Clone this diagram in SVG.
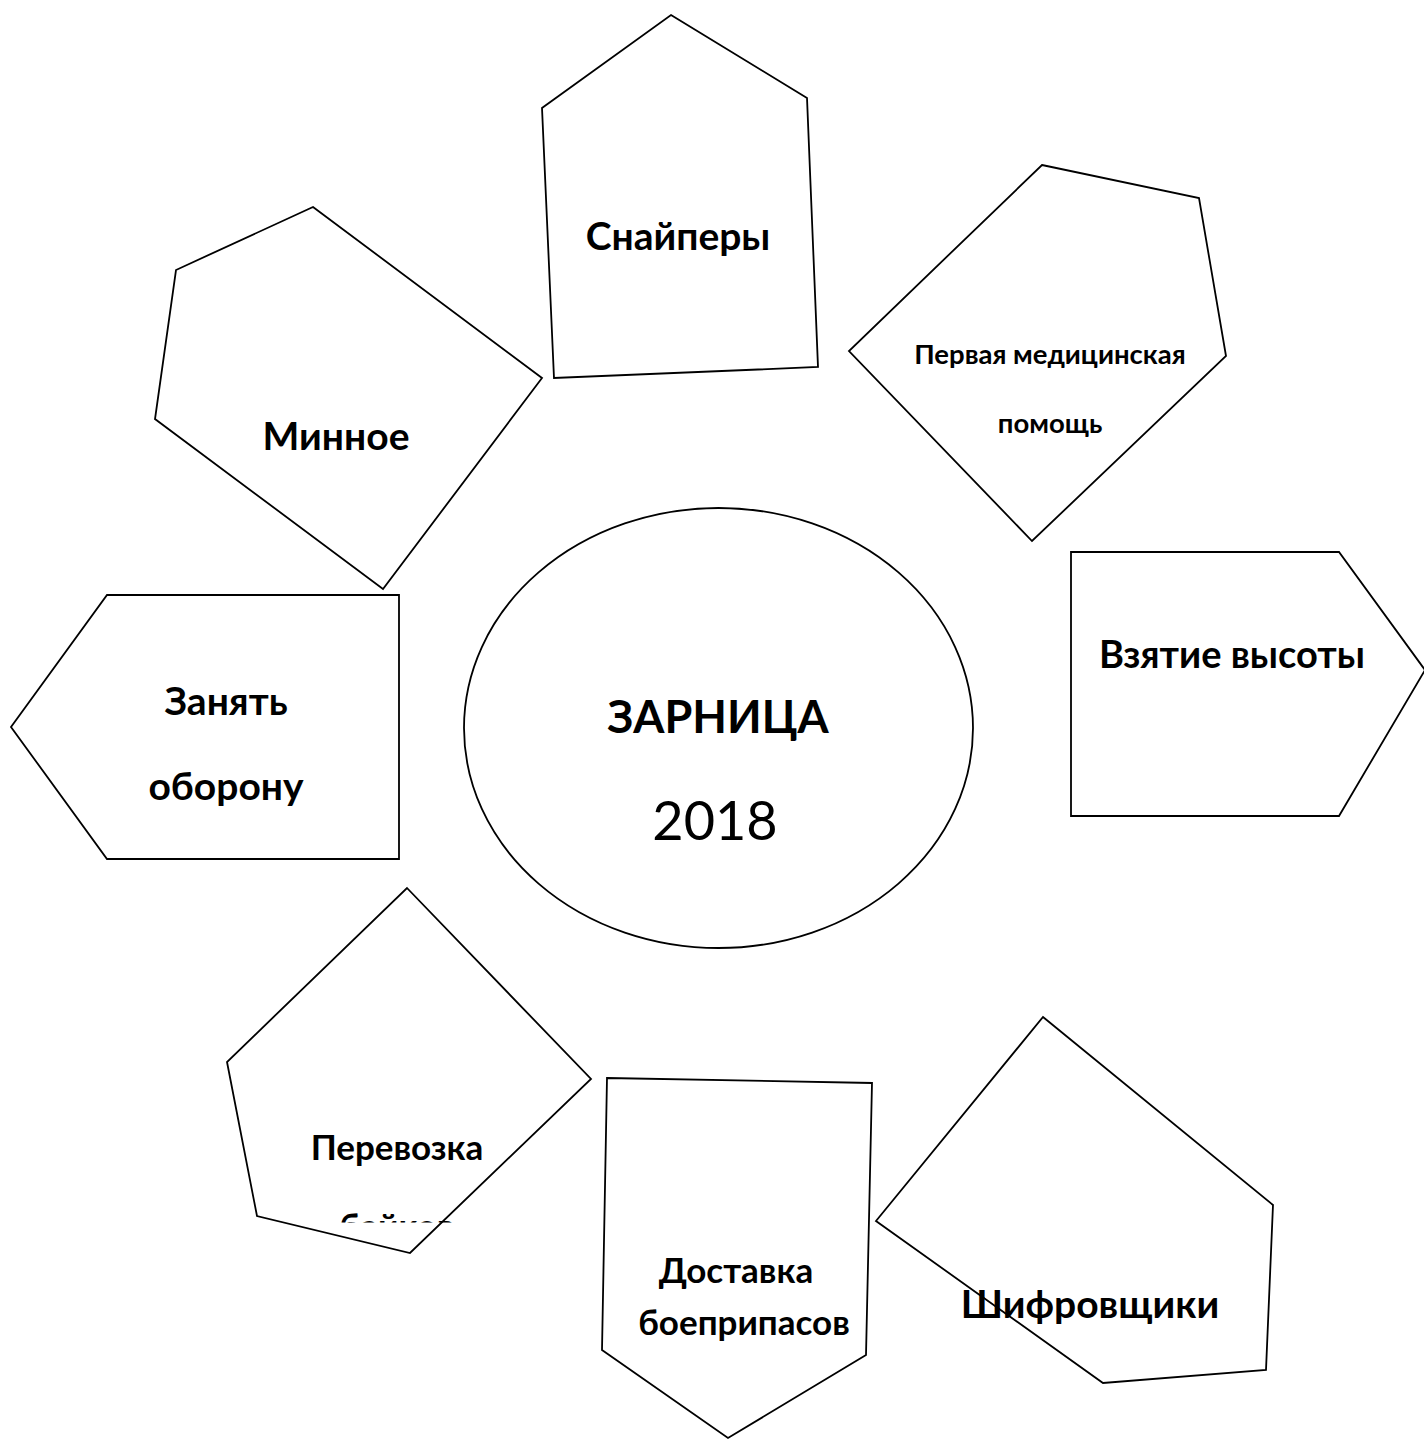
<svg xmlns="http://www.w3.org/2000/svg" width="1424" height="1440" viewBox="0 0 1424 1440">
<style>
.shape{fill:#fff;stroke:#000;stroke-width:1.8;stroke-linejoin:miter}
.t{font-family:Lato,"Open Sans","Noto Sans",sans-serif;font-weight:bold;fill:#000;text-anchor:middle}
.r{font-family:Lato,"Open Sans","Noto Sans",sans-serif;font-weight:normal;fill:#000;text-anchor:middle}
</style>
<defs>
<clipPath id="clipBikes"><rect x="227" y="880" width="364" height="342.5"/></clipPath>
</defs>
<rect width="1424" height="1440" fill="#fff"/>
<g id="connectors"></g>
<g id="node-center">
<ellipse class="shape" cx="718.5" cy="728" rx="254.5" ry="220"/>
<text class="t" x="718" y="733" font-size="45">ЗАРНИЦА</text>
<text class="r" x="715" y="840" font-size="54">2018</text>
</g>
<g id="node-snipers">
<polygon class="shape" points="671,15 807,98 818,367 554,378 542,108"/>
<text class="t" x="678" y="250" font-size="39">Снайперы</text>
</g>
<g id="node-medical">
<polygon class="shape" points="1042,165 1199,198 1226,356 1032,541 849,351"/>
<text class="t" x="1050" y="364" font-size="27.5">Первая медицинская</text>
<text class="t" x="1050" y="433" font-size="27.5">помощь</text>
</g>
<g id="node-height">
<polygon class="shape" points="1071,552 1339,552 1425,670 1339,816 1071,816"/>
<text class="t" x="1232" y="668" font-size="38">Взятие высоты</text>
</g>
<g id="node-defense">
<polygon class="shape" points="107,595 399,595 399,859 107,859 11,727"/>
<text class="t" x="226" y="715" font-size="39">Занять</text>
<text class="t" x="226" y="800" font-size="39">оборону</text>
</g>
<g id="node-mines">
<polygon class="shape" points="313,207 542,378 383,589 155,419 176,270"/>
<text class="t" x="336" y="450" font-size="39">Минное</text>
</g>
<g id="node-bikes">
<polygon class="shape" points="407,888 591,1079 410,1253 257,1216 227,1062"/>
<text class="t" x="397" y="1160" font-size="35">Перевозка</text>
<text class="t" x="397" y="1239" font-size="35" clip-path="url(#clipBikes)">байков</text>
</g>
<g id="node-ammo">
<polygon class="shape" points="607,1078 872,1083 866,1355 728,1438 602,1350"/>
<text class="t" x="736" y="1283" font-size="35">Доставка</text>
<text class="t" x="744" y="1335" font-size="35">боеприпасов</text>
</g>
<g id="node-cipher">
<polygon class="shape" points="1043,1017 1273,1205 1266,1370 1103,1383 876,1221"/>
<text class="t" x="1090" y="1318" font-size="39">Шифровщики</text>
</g>
</svg>
